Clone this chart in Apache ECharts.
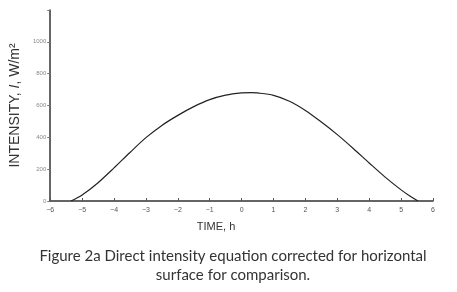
<!DOCTYPE html>
<html>
<head>
<meta charset="utf-8">
<script src="https://cdn.jsdelivr.net/npm/echarts@6/dist/echarts.min.js"></script>
<style>
  html, body { margin: 0; padding: 0; background: #fff; }
  #chart { width: 457px; height: 292px; }
</style>
</head>
<body>
<div id="chart"></div>
<script>
// hours from solar noon
let timeH = [-5.35, -5.0, -4.5, -4.0, -3.5, -3.0, -2.5, -2.0, -1.5, -1.0, -0.5, 0.0, 0.3, 0.5, 1.0, 1.5, 2.0, 2.5, 3.0, 3.5, 4.0, 4.5, 5.0, 5.25, 5.53];
// W/m2
let intensity = [0, 38, 115, 208, 305, 398, 475, 538, 593, 637, 665, 679, 681, 679, 664, 627, 569, 496, 417, 330, 239, 150, 70, 35, 0];

let xTicks = [-6, -5, -4, -3, -2, -1, 0, 1, 2, 3, 4, 5, 6];
let yTicks = [0, 200, 400, 600, 800, 1000];

let points = [];
for (let i = 0; i < timeH.length; i++) {
    points.push([timeH[i], intensity[i]]);
}

let chart = echarts.init(document.getElementById('chart'));

let option = {
    animation: false,
    title: [
        {
            text: 'TIME, h',
            left: 211,
            top: 216,
            textAlign: 'center',
            textStyle: {
                fontFamily: 'Liberation Sans, Arial, sans-serif',
                fontSize: 11,
                fontWeight: 'normal',
                color: '#333'
            }
        },
        {
            text: 'Figure 2a Direct intensity equation corrected for horizontal\nsurface for comparison.',
            left: 228,
            top: 242,
            textAlign: 'center',
            textStyle: {
                fontFamily: 'Lato, sans-serif',
                fontSize: 15,
                lineHeight: 19,
                fontWeight: 'normal',
                color: '#333'
            }
        }
    ],
    grid: {
        left: 47,
        right: 24,
        top: 10,
        bottom: 91,
        containLabel: false
    },
    xAxis: {
        type: 'value',
        min: -6,
        max: 6,
        interval: 1,
        axisLine: { onZero: false, lineStyle: { color: '#333', width: 1.5 } },
        axisTick: { inside: true, length: 3, lineStyle: { color: '#555' } },
        splitLine: { show: false },
        axisLabel: {
            margin: 6,
            fontSize: 7,
            color: '#555',
            fontFamily: 'Liberation Sans, Arial, sans-serif',
            formatter: function (v) {
                return xTicks.indexOf(v) >= 0 ? String(v).replace('-', '\u2212') : '';
            }
        }
    },
    yAxis: {
        type: 'value',
        min: 0,
        max: 1200,
        interval: 200,
        name: 'INTENSITY, {i|I}, W/m\u00b2',
        nameLocation: 'middle',
        nameGap: 22,
        nameTextStyle: {
            fontFamily: 'Liberation Sans, Arial, sans-serif',
            fontSize: 14,
            color: '#333',
            rich: {
                i: {
                    fontFamily: 'Liberation Sans, Arial, sans-serif',
                    fontSize: 14,
                    fontStyle: 'italic',
                    color: '#333'
                }
            }
        },
        axisLine: { show: true, onZero: false, lineStyle: { color: '#333', width: 1.5 } },
        axisTick: { show: true, length: 3, lineStyle: { color: '#777' } },
        splitLine: { show: false },
        axisLabel: {
            margin: 4,
            fontSize: 6,
            color: '#888',
            fontFamily: 'Liberation Sans, Arial, sans-serif',
            formatter: function (v) {
                return yTicks.indexOf(v) >= 0 ? String(v) : '';
            }
        }
    },
    series: [
        {
            type: 'line',
            data: points,
            smooth: 0.3,
            showSymbol: false,
            lineStyle: { color: '#222', width: 1.2 }
        }
    ]
};

chart.setOption(option);
</script>
</body>
</html>
